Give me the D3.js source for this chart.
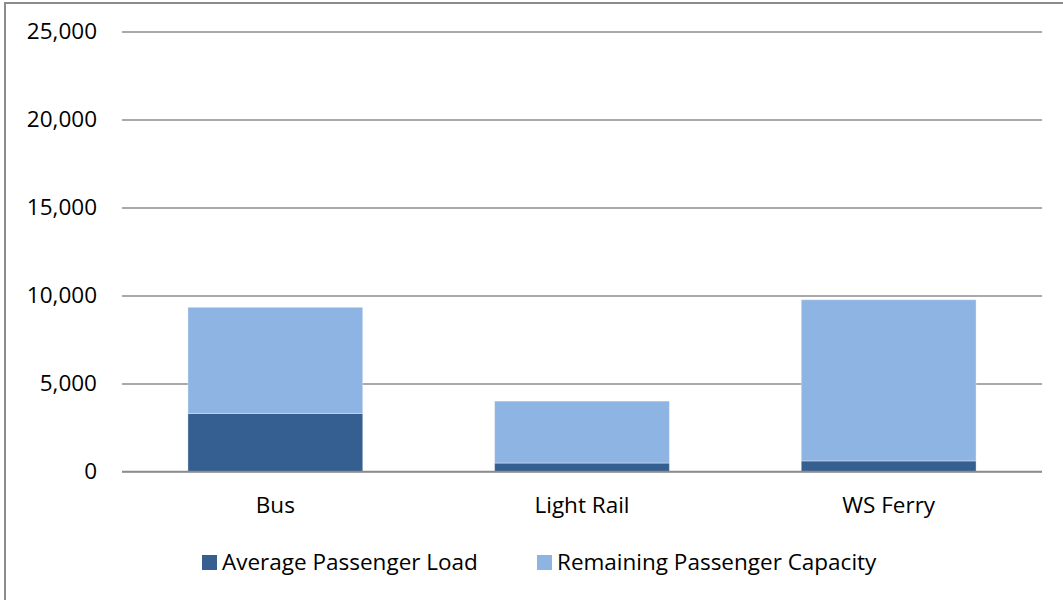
<!DOCTYPE html>
<html>
<head>
<meta charset="utf-8">
<script src="https://cdn.jsdelivr.net/npm/d3@7"></script>
<style>
  body { margin: 0; background: #fff; }
  text { font-family: "Open Sans", sans-serif; fill: #000; }
</style>
</head>
<body>
<svg width="1063" height="600"></svg>
<script>
const categories = ['Bus', 'Light Rail', 'WS Ferry'];
const avgLoad = [3300, 480, 600];
const remaining = [6030, 3520, 9160];
const seriesNames = ['Average Passenger Load', 'Remaining Passenger Capacity'];
const colors = ['#355f91', '#8eb4e3'];
const yTicks = [0, 5000, 10000, 15000, 20000, 25000];

const svg = d3.select('svg');
const fontSize = '22.5px';

// outer chart border
svg.append('rect')
  .attr('x', 5).attr('y', 3)
  .attr('width', 1070).attr('height', 610)
  .attr('fill', 'none')
  .attr('stroke', '#8c8c8c')
  .attr('stroke-width', 2);

const margin = { top: 31.5, left: 122, right: 21, bottom: 128.5 };
const innerW = 1063 - margin.left - margin.right;
const innerH = 600 - margin.top - margin.bottom;

const g = svg.append('g').attr('transform', `translate(${margin.left},${margin.top})`);

const x = d3.scaleBand()
  .domain(categories)
  .range([0, innerW])
  .paddingInner(0.43)
  .paddingOuter(0.215);

const y = d3.scaleLinear().domain([0, 25000]).range([innerH, 0]);

// gridlines
g.append('g')
  .call(d3.axisLeft(y).tickValues(yTicks).tickSize(-innerW).tickFormat(''))
  .call(a => a.select('.domain').remove())
  .call(a => a.selectAll('line').attr('stroke', '#8c8c8c').attr('stroke-width', 1.5));

// y tick labels
g.append('g')
  .attr('transform', 'translate(-25,0)')
  .call(d3.axisLeft(y).tickValues(yTicks).tickSize(0).tickPadding(0).tickFormat(d3.format(',')))
  .call(a => a.select('.domain').remove())
  .call(a => a.selectAll('text')
    .style('font-family', '"Open Sans", sans-serif')
    .style('font-size', fontSize)
    .attr('fill', '#000'));

const table = categories.map((c, i) => ({ cat: c, load: avgLoad[i], rem: remaining[i] }));
const stacked = d3.stack().keys(['load', 'rem'])(table);

g.selectAll('g.series')
  .data(stacked)
  .join('g')
  .attr('class', 'series')
  .attr('fill', (d, i) => colors[i])
  .selectAll('rect')
  .data(d => d)
  .join('rect')
  .attr('x', d => x(d.data.cat))
  .attr('y', d => y(d[1]))
  .attr('width', x.bandwidth())
  .attr('height', d => y(d[0]) - y(d[1]))
  .attr('stroke', 'rgba(255,255,255,0.35)')
  .attr('stroke-width', 1);

// baseline
g.append('line')
  .attr('x1', 0).attr('x2', innerW)
  .attr('y1', y(0)).attr('y2', y(0))
  .attr('stroke', '#8c8c8c').attr('stroke-width', 1.5);

// category labels
g.append('g')
  .attr('transform', `translate(0,${innerH})`)
  .call(d3.axisBottom(x).tickSize(0).tickPadding(25.5))
  .call(a => a.select('.domain').remove())
  .call(a => a.selectAll('text')
    .style('font-family', '"Open Sans", sans-serif')
    .style('font-size', fontSize)
    .attr('fill', '#000'));

// legend
const legendX = [202, 537];
const legend = svg.append('g').selectAll('g')
  .data(seriesNames)
  .join('g')
  .attr('transform', (d, i) => `translate(${legendX[i]},555)`);
legend.append('rect')
  .attr('width', 15).attr('height', 15)
  .attr('fill', (d, i) => colors[i]);
legend.append('text')
  .attr('x', 20).attr('y', 7.5)
  .attr('dy', '0.35em')
  .style('font-size', fontSize)
  .text(d => d);
</script>
</body>
</html>
